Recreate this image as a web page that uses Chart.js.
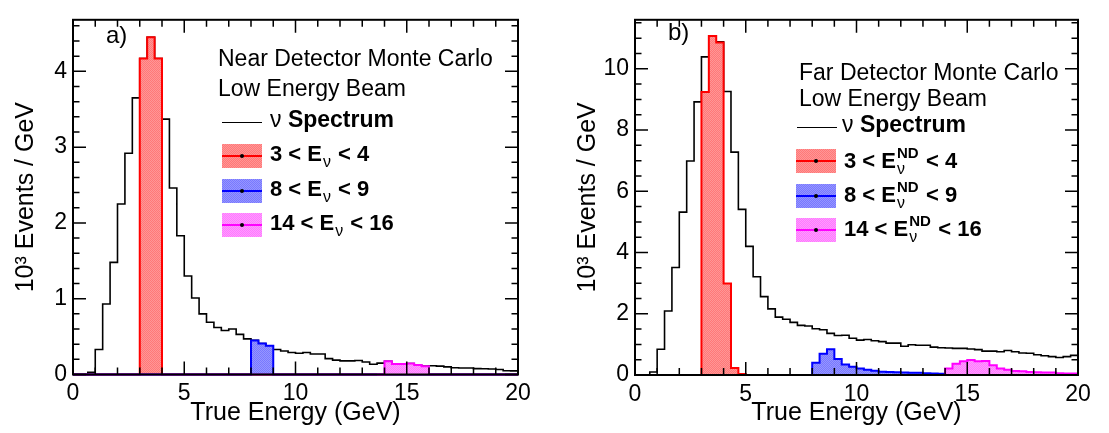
<!DOCTYPE html>
<html>
<head>
<meta charset="utf-8">
<script src="https://cdn.jsdelivr.net/npm/chart.js@4.4.0/dist/chart.umd.min.js"></script>
<style>
body { margin:0; background:#fff; }
#wrap { position:relative; width:1109px; height:433px; overflow:hidden; font-family:"Liberation Sans", Arial, sans-serif; color:#000; }
canvas { position:absolute; top:0; }
.txt { position:absolute; white-space:nowrap; }
.b { font-weight:bold; }
.box { position:absolute; width:40px; height:24px; }
.box .ln { position:absolute; left:0; right:0; top:11px; height:2px; }
.box .dot { position:absolute; left:18px; top:10px; width:4px; height:4px; border-radius:2px; background:#000; }
.stk { display:inline-block; position:relative; height:10px; }
.stk .up { position:absolute; left:1px; bottom:8px; font-size:15px; line-height:15px; font-weight:bold; }
.stk .dn { position:absolute; left:1px; top:3px; font-size:16px; line-height:16px; font-weight:normal; }
</style>
</head>
<body>
<div id="wrap">
  <canvas id="cA" width="555" height="433" style="left:0px"></canvas>
  <canvas id="cB" width="554" height="433" style="left:555px"></canvas>
</div>
<script>
// histograms are 60 bins of 1/3 GeV from 0 to 20 GeV
var nBins = 60;
var binWidth = 20 / 60;
var xTickLabels = [0, 5, 10, 15, 20];

// a) Near Detector, 10^3 events / GeV per bin
var ndSpectrum = [0, 0, 0.03, 0.33, 0.93, 1.48, 2.25, 2.92, 3.65, 4.17,
                  4.45, 4.17, 3.37, 2.46, 1.83, 1.30, 1.01, 0.80, 0.69, 0.62,
                  0.58, 0.60, 0.53, 0.47, 0.45, 0.41, 0.38, 0.33, 0.31, 0.29,
                  0.28, 0.29, 0.27, 0.27, 0.21, 0.19, 0.18, 0.18, 0.185, 0.165,
                  0.135, 0.15, 0.175, 0.14, 0.14, 0.145, 0.125, 0.11, 0.115, 0.11,
                  0.10, 0.09, 0.085, 0.085, 0.078, 0.075, 0.072, 0.065, 0.05, 0.048];
// selected true energy bands (first bin edge in GeV, then bin contents)
var ndRedFrom = 3,   ndRed = [4.17, 4.45, 4.17];
var ndBlueFrom = 8,  ndBlue = [0.45, 0.41, 0.38];
var ndPinkFrom = 14, ndPink = [0.175, 0.14, 0.14, 0.145, 0.125, 0.11];
var ndYTicks = [0, 1, 2, 3, 4];

// b) Far Detector
var fdSpectrum = [0, 0, 0.10, 0.84, 2.09, 3.51, 5.32, 6.99, 8.92, 10.39,
                  11.07, 10.88, 9.26, 7.28, 5.41, 4.20, 3.21, 2.56, 2.16, 1.89,
                  1.82, 1.72, 1.62, 1.60, 1.51, 1.48, 1.36, 1.29, 1.30, 1.20,
                  1.14, 1.16, 1.12, 1.09, 1.04, 1.04, 0.94, 0.99, 0.97, 0.97,
                  0.91, 0.89, 0.88, 0.87, 0.87, 0.85, 0.83, 0.78, 0.78, 0.76,
                  0.80, 0.76, 0.72, 0.71, 0.66, 0.63, 0.60, 0.57, 0.60, 0.64];
// FD true energy of events in the ND energy bands
var fdRedFrom = 3,   fdRed = [9.24, 11.07, 10.86, 2.99, 0.23, 0.03];
var fdBlueFrom = 8,  fdBlue = [0.40, 0.69, 0.84, 0.52, 0.34, 0.27, 0.21, 0.17, 0.135, 0.11,
                               0.10, 0.09, 0.08, 0.07, 0.07, 0.06, 0.05, 0.04, 0.03, 0.03,
                               0.02, 0.02, 0.01];
var fdPinkFrom = 14, fdPink = [0.21, 0.37, 0.45, 0.49, 0.45, 0.46, 0.32, 0.21, 0.17, 0.13,
                               0.12, 0.10, 0.09, 0.08, 0.08, 0.06, 0.05, 0.05];
var fdYTicks = [0, 2, 4, 6, 8, 10];

var FONT = '"Liberation Sans", Arial, sans-serif';
// fill colours (two shades for the checker)
var redFill = ['rgb(255,120,120)', 'rgb(255,150,150)'];
var blueFill = ['rgb(120,120,255)', 'rgb(150,150,255)'];
var pinkFill = ['rgb(255,120,255)', 'rgb(255,155,255)'];

//turns bin contents into step points (one point per low edge + closing point at 20)
function histPoints(vals, fromGeV) {
	var start = Math.round(fromGeV / binWidth);
	var pts = [];
	for (var i = 0; i < nBins; i++) {
		var j = i - start;
		var y = (j >= 0 && j < vals.length) ? vals[j] : 0;
		pts.push({x: i * binWidth, y: y});
	}
	pts.push({x: 20, y: pts[pts.length - 1].y});
	return pts;
}

//1px checker fill like the root hatch
function checker(ctx, c) {
	var p = document.createElement('canvas');
	p.width = 2; p.height = 2;
	var g = p.getContext('2d');
	g.fillStyle = c[1]; g.fillRect(0, 0, 2, 2);
	g.fillStyle = c[0]; g.fillRect(0, 0, 1, 1); g.fillRect(1, 1, 1, 1);
	return ctx.createPattern(p, 'repeat');
}

//frame + inside ticks on all four sides (root style)
var frameTicks = {
	id: 'frameTicks',
	afterDatasetsDraw: function(chart, args, opts) {
		var ctx = chart.ctx, a = chart.chartArea;
		var xs = chart.scales.x, ys = chart.scales.y;
		ctx.save();
		ctx.strokeStyle = '#000';
		ctx.lineWidth = 1.5;
		ctx.beginPath();
		for (var v = 0; v <= 20; v++) {
			var px = xs.getPixelForValue(v);
			var len = (v % 5 == 0) ? 13 : 7;
			ctx.moveTo(px, a.bottom); ctx.lineTo(px, a.bottom - len);
			ctx.moveTo(px, a.top); ctx.lineTo(px, a.top + len);
		}
		for (var k = 0; k * opts.minor <= ys.max + 1e-9; k++) {
			var py = ys.getPixelForValue(k * opts.minor);
			var l2 = (k % opts.per == 0) ? 13 : 6.5;
			ctx.moveTo(a.left, py); ctx.lineTo(a.left + l2, py);
			ctx.moveTo(a.right, py); ctx.lineTo(a.right - l2, py);
		}
		ctx.stroke();
		ctx.lineWidth = 2;
		ctx.strokeRect(a.left, a.top, a.right - a.left, a.bottom - a.top);
		ctx.restore();
	}
};

function drawPanel(id, spec, red, blue, pink, yMax, yTicks, minor, per, geo) {
	var ctx = document.getElementById(id).getContext('2d');
	var ds = [];
	ds.push({data: histPoints(spec, 0), borderColor: '#000', borderWidth: 1.6, order: 3});
	ds.push({data: histPoints(red[1], red[0]), borderColor: '#ff0000', borderWidth: 2,
		backgroundColor: checker(ctx, redFill), fill: 'origin', order: 2});
	ds.push({data: histPoints(blue[1], blue[0]), borderColor: '#0000ff', borderWidth: 2,
		backgroundColor: checker(ctx, blueFill), fill: 'origin', order: 1});
	ds.push({data: histPoints(pink[1], pink[0]), borderColor: '#ff00ff', borderWidth: 2,
		backgroundColor: checker(ctx, pinkFill), fill: 'origin', order: 0,
		segment: {borderColor: function(c) {
			return (c.p0.parsed.y === 0 && c.p1.parsed.y === 0) ? '#b000e0' : undefined;
		}}});
	ds.forEach(function(d) {
		d.stepped = true; d.pointRadius = 0; d.tension = 0; d.clip = 4;
		if (!d.fill) d.fill = false;
	});

	return new Chart(ctx, {
		type: 'line',
		data: {datasets: ds},
		options: {
			responsive: false,
			animation: false,
			events: [],
			layout: {padding: {top: geo.top, right: geo.right, left: 0, bottom: 0}},
			plugins: {legend: {display: false}, tooltip: {enabled: false},
				frameTicks: {minor: minor, per: per}},
			scales: {
				x: {
					type: 'linear', min: 0, max: 20,
					grid: {display: false, drawTicks: false}, border: {display: false},
					afterBuildTicks: function(s) { s.ticks = xTickLabels.map(function(v) { return {value: v}; }); },
					ticks: {autoSkip: false, maxRotation: 0, padding: geo.xpad, color: '#000', font: {family: FONT, size: 23}},
					title: {display: true, text: 'True Energy (GeV)', color: '#000', font: {family: FONT, size: 25},
						padding: {top: 0, bottom: geo.xtpad}},
					afterFit: function(s) { s.height = geo.xh; }
				},
				y: {
					type: 'linear', min: 0, max: yMax,
					grid: {display: false, drawTicks: false}, border: {display: false},
					afterBuildTicks: function(s) { s.ticks = yTicks.map(function(v) { return {value: v}; }); },
					ticks: {autoSkip: false, padding: 6, color: '#000', font: {family: FONT, size: 23}},
					title: {display: true, text: '10\u00b3 Events / GeV', color: '#000', font: {family: FONT, size: 25},
						padding: {top: geo.ytpad, bottom: 0}},
					afterFit: function(s) { s.width = geo.left; }
				}
			}
		},
		plugins: [frameTicks]
	});
}

drawPanel('cA', ndSpectrum, [ndRedFrom, ndRed], [ndBlueFrom, ndBlue], [ndPinkFrom, ndPink],
	4.68, ndYTicks, 0.2, 5, {top: 4, right: 37, left: 73, xh: 58.5, xpad: 5.5, xtpad: 4.5, ytpad: 11});
drawPanel('cB', fdSpectrum, [fdRedFrom, fdRed], [fdBlueFrom, fdBlue], [fdPinkFrom, fdPink],
	11.6, fdYTicks, 0.5, 4, {top: 5, right: 31, left: 80, xh: 58, xpad: 5.5, xtpad: 4.5, ytpad: 18.5});

// ---- legends and panel labels (html text over the canvases) ----
var wrap = document.getElementById('wrap');
function addText(html, left, baseline, size, cls) {
	var d = document.createElement('div');
	d.className = 'txt' + (cls ? ' ' + cls : '');
	d.style.fontSize = size + 'px';
	d.style.lineHeight = size + 'px';
	d.style.left = left + 'px';
	d.style.top = (baseline - 0.8465 * size) + 'px';
	d.innerHTML = html;
	wrap.appendChild(d);
}
function addBox(left, top, col, fillc) {
	var d = document.createElement('div');
	d.className = 'box';
	d.style.left = left + 'px';
	d.style.top = top + 'px';
	d.style.background = 'repeating-conic-gradient(' + fillc[0] + ' 0 25%, ' + fillc[1] + ' 0 50%) 0 0 / 2px 2px';
	d.innerHTML = '<div class="ln" style="background:' + col + '"></div><div class="dot"></div>';
	wrap.appendChild(d);
}
function addLine(left, y, w) {
	var d = document.createElement('div');
	d.style.cssText = 'position:absolute;background:#000;height:1.5px;left:' + left + 'px;top:' + (y - 0.75) + 'px;width:' + w + 'px';
	wrap.appendChild(d);
}

var nuSub = '<span class="stk" style="width:10px"><span class="dn">\u03bd</span></span>';
var nuND = '<span class="stk" style="width:24px"><span class="up">ND</span><span class="dn">\u03bd</span></span>';

// panel a
addText('a)', 106, 43, 24);
addText('Near Detector Monte Carlo', 218, 66.7, 23);
addText('Low Energy Beam', 218, 96, 23);
addLine(222, 122.7, 40);
addText('\u03bd <b>Spectrum</b>', 270, 127.3, 23);
addBox(222, 144, '#ff0000', redFill);
addText('3 &lt; E' + nuSub + ' &lt; 4', 270, 161.7, 22, 'b');
addBox(222, 178.5, '#0000ff', blueFill);
addText('8 &lt; E' + nuSub + ' &lt; 9', 270, 196.4, 22, 'b');
addBox(222, 213, '#ff00ff', pinkFill);
addText('14 &lt; E' + nuSub + ' &lt; 16', 270, 231, 22, 'b');

// panel b
addText('b)', 668, 40, 24);
addText('Far Detector Monte Carlo', 799, 80, 23);
addText('Low Energy Beam', 799, 106, 23);
addLine(797, 127.3, 40);
addText('\u03bd <b>Spectrum</b>', 842, 132.7, 23);
addBox(796, 149, '#ff0000', redFill);
addText('3 &lt; E' + nuND + ' &lt; 4', 844, 168.3, 22, 'b');
addBox(796, 183.5, '#0000ff', blueFill);
addText('8 &lt; E' + nuND + ' &lt; 9', 844, 202.7, 22, 'b');
addBox(796, 218.3, '#ff00ff', pinkFill);
addText('14 &lt; E' + nuND + ' &lt; 16', 844, 236.7, 22, 'b');
</script>
</body>
</html>
